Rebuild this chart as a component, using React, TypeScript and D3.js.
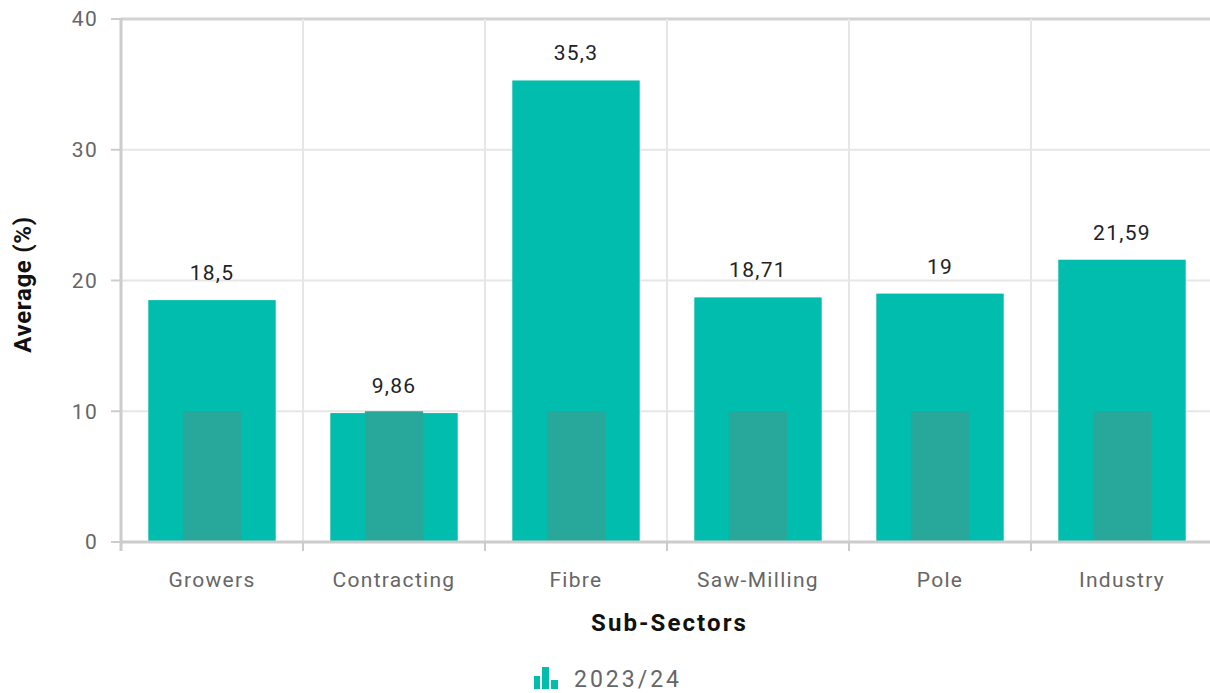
import React from "react";
import * as d3 from "d3";

const categories = ["Growers", "Contracting", "Fibre", "Saw-Milling", "Pole", "Industry"];
const values = [18.5, 9.86, 35.3, 18.71, 19, 21.59];
const targets = [10, 10, 10, 10, 10, 10];
const yTicks = [0, 10, 20, 30, 40];
const seriesName = "2023/24";

const W = 1210;
const H = 693;
const margin = { left: 121, right: -3, top: 19, bottom: 151 };

const fmt = (v: number) => String(v).replace(".", ",");

export default function App() {
  const x = d3
    .scaleBand<string>()
    .domain(categories)
    .range([margin.left, W - margin.right])
    .paddingInner(0)
    .paddingOuter(0);
  const y = d3.scaleLinear().domain([0, 40]).range([H - margin.bottom, margin.top]);
  const bw = x.bandwidth();
  const barW = bw * 0.7;
  const innerW = bw * 0.32;
  const font = "Roboto, 'Noto Sans', sans-serif";
  const y0 = y(0);

  return (
    <svg
      width={W}
      height={H}
      style={{ position: "absolute", left: 0, top: 0, background: "#fff" }}
      fontFamily={font}
    >
      {/* horizontal grid */}
      {yTicks.map((t) => (
        <g key={"y" + t}>
          <line
            x1={margin.left}
            x2={W}
            y1={y(t)}
            y2={y(t)}
            stroke={t === 40 ? "#d2d2d2" : "#e6e6e6"}
            strokeWidth={t === 40 ? 3 : 2}
          />
          <line x1={margin.left - 10} x2={margin.left} y1={y(t)} y2={y(t)} stroke="#cccccc" strokeWidth={2} />
          <text
            x={margin.left - 23}
            y={y(t)}
            dy="0.35em"
            textAnchor="end"
            fontSize={21}
            letterSpacing={1.3}
            fill="#666"
          >
            {t}
          </text>
        </g>
      ))}
      {/* vertical grid at band boundaries */}
      {categories.map((c, i) =>
        i === 0 ? null : (
          <line key={"v" + c} x1={x(c)!} x2={x(c)!} y1={margin.top} y2={y0} stroke="#e6e6e6" strokeWidth={2} />
        )
      )}
      {/* bars */}
      {categories.map((c, i) => {
        const cx = x(c)! + bw / 2;
        return (
          <g key={"b" + c}>
            <rect x={cx - barW / 2} y={y(values[i])} width={barW} height={y0 - y(values[i])} fill="#00bdad" />
            <rect
              x={cx - innerW / 2}
              y={y(targets[i])}
              width={innerW}
              height={y0 - y(targets[i])}
              fill="#27a89b"
            />
            <text
              x={cx}
              y={y(values[i]) - 20}
              textAnchor="middle"
              fontSize={21}
              letterSpacing={1.3}
              fill="#222"
            >
              {fmt(values[i])}
            </text>
            <text x={cx} y={y0 + 45} textAnchor="middle" fontSize={21} letterSpacing={1.3} fill="#666">
              {c}
            </text>
          </g>
        );
      })}
      {/* axes */}
      <line x1={margin.left} x2={margin.left} y1={margin.top - 1} y2={y0 + 9} stroke="#cccccc" strokeWidth={3} />
      <line x1={margin.left} x2={W} y1={y0} y2={y0} stroke="#cccccc" strokeWidth={3} />
      {categories.map((c, i) =>
        i === 0 ? null : (
          <line key={"t" + c} x1={x(c)!} x2={x(c)!} y1={y0} y2={y0 + 9} stroke="#cccccc" strokeWidth={2} />
        )
      )}
      {/* axis titles */}
      <text
        transform={`translate(31,${(margin.top + y0) / 2 + 4}) rotate(-90)`}
        textAnchor="middle"
        fontSize={24}
        letterSpacing={0.7}
        fontWeight="bold"
        fill="#111"
      >
        Average (%)
      </text>
      <text
        x={(margin.left + W) / 2 + 4}
        y={631}
        textAnchor="middle"
        fontSize={24}
        letterSpacing={2.1}
        fontWeight="bold"
        fill="#111"
      >
        Sub-Sectors
      </text>
      {/* legend */}
      <g transform="translate(534,667)">
        <rect x={0} y={9} width={6} height={13} fill="#00bdad" />
        <rect x={8} y={0} width={7} height={22} fill="#00bdad" />
        <rect x={17} y={13} width={7} height={9} fill="#00bdad" />
        <text x={40} y={20} fontSize={23} letterSpacing={3} fill="#666">
          {seriesName}
        </text>
      </g>
    </svg>
  );
}
